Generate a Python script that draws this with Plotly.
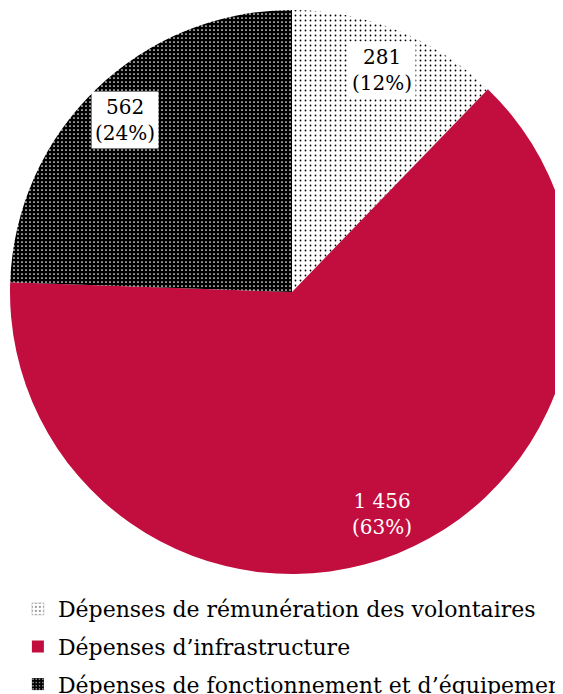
import math
import plotly.graph_objects as go

labels = [
    "Dépenses de rémunération des volontaires",
    "Dépenses d’infrastructure",
    "Dépenses de fonctionnement et d’équipement",
]
values = [281, 1456, 562]

bg_colors = ["white", "#C20E3E", "black"]
fg_colors = ["black", "#C20E3E", "white"]
shapes = [".", "", "."]
sizes = [5, 5, 4]
solidities = [0.1, 0.1, 0.15]
text_colors = ["black", "white", "black"]
label_bg = ["white", "rgba(0,0,0,0)", "white"]

SERIF = "Palatino Linotype, Book Antiqua, Palatino, DejaVu Serif, serif"

fig = go.Figure()

fig.add_trace(go.Pie(
    labels=labels,
    values=values,
    sort=False,
    direction="clockwise",
    rotation=0,
    marker=dict(
        colors=bg_colors,
        line=dict(width=0),
        pattern=dict(
            shape=shapes,
            fgcolor=fg_colors,
            bgcolor=bg_colors,
            size=sizes,
            solidity=solidities,
            fillmode="replace",
        ),
    ),
    textinfo="none",
    hoverinfo="label+value+percent",
    showlegend=False,
))

# labels placed along each slice's mid-angle, with a white box like the original
total = sum(values)
cum = 0
for v, tc, bg in zip(values, text_colors, label_bg):
    theta = 2 * math.pi * (cum + v / 2) / total
    cum += v
    k = 0.85
    fig.add_annotation(
        x=0.5 + 0.5 * k * math.sin(theta),
        y=0.5 + 0.5 * k * math.cos(theta),
        xref="paper", yref="paper",
        xanchor="center", yanchor="middle",
        text=f"{v:,}".replace(",", " ") + f"<br>({round(100 * v / total)}%)",
        showarrow=False,
        font=dict(family=SERIF, size=20, color=tc),
        bgcolor=bg,
        borderpad=3,
    )

# legend entries (bars carry the same patterns as the slices)
for i, lab in enumerate(labels):
    fig.add_trace(go.Bar(
        x=[None], y=[None], name=lab,
        legendgroup=f"g{i}",
        marker=dict(
            color=bg_colors[i],
            line=dict(width=0.5, color="#bbbbbb") if i == 0 else dict(width=0),
            pattern=dict(
                shape=shapes[i],
                fgcolor=fg_colors[i],
                bgcolor=bg_colors[i],
                size=sizes[i],
                solidity=solidities[i],
                fillmode="replace",
            ),
        ),
        hoverinfo="skip",
    ))

fig.update_layout(
    width=580,
    height=710,
    margin=dict(l=2, r=14, t=2, b=144),
    paper_bgcolor="white",
    plot_bgcolor="rgba(0,0,0,0)",
    font=dict(family=SERIF, size=20, color="black"),
    xaxis=dict(visible=False),
    yaxis=dict(visible=False),
    showlegend=True,
    legend=dict(
        orientation="v",
        x=0.014, xanchor="left",
        y=-0.025, yanchor="top",
        font=dict(family=SERIF, size=22, color="black"),
        itemwidth=30,
        tracegroupgap=6,
        bgcolor="rgba(0,0,0,0)",
    ),
)

fig.write_html("out.html", post_script="document.body.style.overflow='hidden';")
